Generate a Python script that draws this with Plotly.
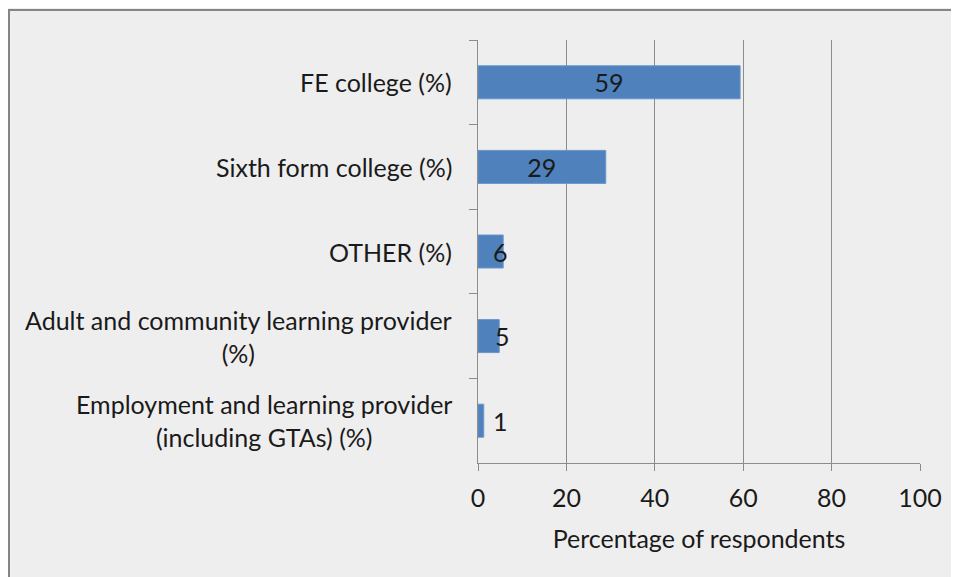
import plotly.graph_objects as go

categories = ["FE college (%)", "Sixth form college (%)", "OTHER (%)",
              "Adult and community learning provider<br>(%)",
              "Employment and learning provider<br>(including GTAs) (%)"]
values = [59.3, 28.9, 5.7, 4.8, 1.3]
labels = ["59", "29", "6", "5", "1"]
x_ticks = [0, 20, 40, 60, 80, 100]

FONT = "Lato"
FS = 25
TXT = "#1a1a1a"
GRID = "#8c8c8c"

L, R, T, B = 470, 47, 32, 122
PW = 959 - L - R
PH = 577 - T - B

fig = go.Figure()
fig.add_trace(go.Bar(
    y=categories, x=values, orientation="h",
    marker=dict(color="#4f81bd", line=dict(color="#6a96cc", width=1)),
    text=[l if v > 15 else "" for l, v in zip(labels, values)],
    textposition="inside", insidetextanchor="middle",
    textangle=0, constraintext="none",
    textfont=dict(family=FONT, size=FS, color=TXT),
    hoverinfo="skip", showlegend=False,
))

# small-bar labels placed next to the bar ends
shifts = [0, 0, -3, 3, 17]
for c, v, l, s in zip(categories, values, labels, shifts):
    if v <= 15:
        fig.add_annotation(x=v, y=c, text=l, showarrow=False, xanchor="center",
                           xshift=s, font=dict(family=FONT, size=FS, color=TXT))

# category labels (centered multi-line)
for c in categories:
    fig.add_annotation(xref="paper", x=0, y=c, text=c, showarrow=False,
                       xanchor="right", align="center", xshift=-24,
                       font=dict(family=FONT, size=FS, color=TXT))

fig.update_layout(
    width=959, height=577,
    margin=dict(l=L, r=R, t=T, b=B),
    paper_bgcolor="#eeeeee", plot_bgcolor="#eeeeee",
    bargap=0.61,
    font=dict(family=FONT, size=FS, color=TXT),
    xaxis=dict(range=[0, 100], tickvals=x_ticks, showgrid=True, gridcolor=GRID,
               gridwidth=1, zeroline=False, showline=True, linecolor=GRID,
               linewidth=1, ticks="outside", ticklen=7, tickcolor=GRID,
               ticklabelstandoff=6,
               tickfont=dict(family=FONT, size=FS, color=TXT),
               title=dict(text="Percentage of respondents", standoff=19,
                          font=dict(family=FONT, size=FS, color=TXT))),
    yaxis=dict(autorange="reversed", showticklabels=False, showgrid=False,
               showline=True, linecolor=GRID, linewidth=1, ticks="outside",
               tickson="boundaries", ticklen=8, tickcolor=GRID),
    shapes=[dict(type="rect", xref="paper", yref="paper",
                 x0=(1 - L) / PW, x1=1.2, y0=-0.5, y1=1 + (T - 2) / PH,
                 line=dict(color="#858585", width=2), fillcolor="rgba(0,0,0,0)")],
)

fig.write_html("out.html")
